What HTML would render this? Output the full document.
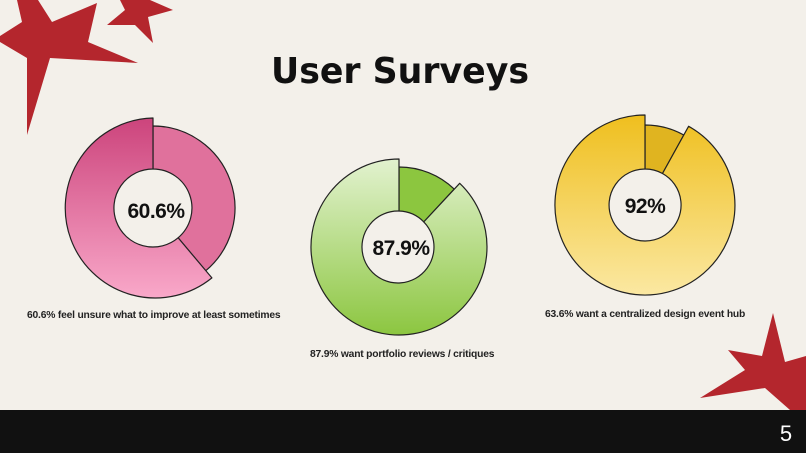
<!DOCTYPE html>
<html><head><meta charset="utf-8"><style>
body{margin:0;width:806px;height:453px;overflow:hidden;background:#f3f0ea;font-family:"Liberation Sans",sans-serif;position:relative}
.lbl{position:absolute;font-weight:bold;font-size:10.3px;color:#222;white-space:nowrap;letter-spacing:-0.2px}
</style></head><body>
<svg width="806" height="453" style="position:absolute;left:0;top:0">
<defs>
<linearGradient id="pk" x1="0" y1="0" x2="0" y2="1"><stop offset="0" stop-color="#cc447c"/><stop offset="1" stop-color="#f9a8c9"/></linearGradient>
<linearGradient id="gr" x1="0" y1="0" x2="0" y2="1"><stop offset="0" stop-color="#e2f2cf"/><stop offset="1" stop-color="#8cc640"/></linearGradient>
<linearGradient id="yl" x1="0" y1="0" x2="0" y2="1"><stop offset="0" stop-color="#efbf1e"/><stop offset="1" stop-color="#fbe8a2"/></linearGradient>
</defs>
<polygon fill="#b4262d" points="17,0 38,0 52,22 97,3 88,42 138,63 50,58 27,135 27,58 0,42 0,36 22,22"/>
<polygon fill="#b4262d" points="120,0 150,0 173,10 148,17 153,43 135,25 107,25 125,10"/>
<polygon fill="#b4262d" points="773,313 785,362 806,356 806,410 790,410 765,388 700,398 745,370 728,350 762,356"/>
<rect x="0" y="410" width="806" height="43" fill="#111"/>
<g stroke="#222" stroke-width="1.2" stroke-linejoin="round">
<path fill="#e0719c" d="M153,126 A82,82 0 0 1 205.7,270.8 L178.1,237.8 A39,39 0 0 0 153,169 Z"/>
<path fill="url(#pk)" d="M211.9,277.9 A90,90 0 1 1 153,118 L153,169 A39,39 0 1 0 178.1,237.8 Z"/>
<path fill="#8cc63f" d="M399,167 A80,80 0 0 1 454.2,189.1 L423.8,221.9 A36,36 0 0 0 399,211 Z"/>
<path fill="url(#gr)" d="M459.7,183.3 A88,88 0 1 1 399,159 L399,211 A36,36 0 1 0 423.8,221.9 Z"/>
<path fill="#e0b420" d="M645,125 A80,80 0 0 1 683.8,135.0 L662.5,173.5 A36,36 0 0 0 645,169 Z"/>
<path fill="url(#yl)" d="M688.6,126.3 A90,90 0 1 1 645,115 L645,169 A36,36 0 1 0 662.5,173.5 Z"/>
</g>
<g font-family="Liberation Sans,sans-serif" font-weight="bold" fill="#111" text-anchor="middle">
<text x="156" y="218" font-size="21" letter-spacing="-0.5">60.6%</text>
<text x="401" y="255" font-size="21" letter-spacing="-0.5">87.9%</text>
<text x="645" y="213" font-size="21" letter-spacing="-0.5">92%</text>
<text x="400" y="83" font-size="36" textLength="258" lengthAdjust="spacingAndGlyphs" font-family="DejaVu Sans,sans-serif">User Surveys</text>
<text x="786" y="441" font-size="22" fill="#fff" font-weight="normal">5</text>
</g>
</svg>
<div class="lbl" style="left:27px;top:310px">60.6% feel unsure what to improve at least sometimes</div>
<div class="lbl" style="left:310px;top:349px">87.9% want portfolio reviews / critiques</div>
<div class="lbl" style="left:545px;top:309px">63.6% want a centralized design event hub</div>
</body></html>
